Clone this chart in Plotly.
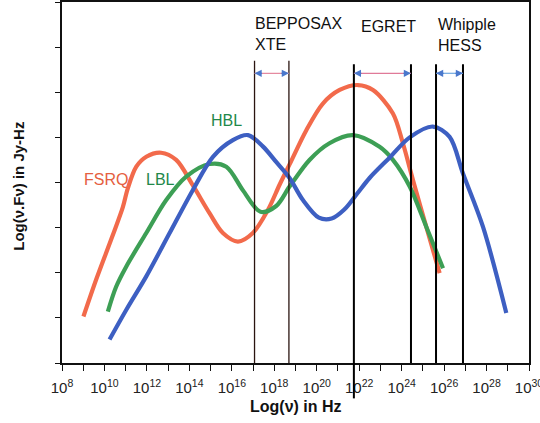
import plotly.graph_objects as go

# ---- data (log10 of frequency in Hz, log nuFnu in arbitrary units) ----
fsrq_x = [9.01, 9.61, 10.39, 10.87, 11.10, 11.50, 11.97, 12.67, 13.38, 14.16, 14.95, 15.58, 16.29,
          16.99, 17.70, 18.25, 18.72, 19.51, 20.29, 21.08, 21.94, 22.65, 23.59, 24.06, 24.53, 25.16, 25.79]
fsrq_y = [1.03, 1.85, 2.83, 3.46, 3.87, 4.35, 4.57, 4.66, 4.50, 3.94, 3.32, 2.88, 2.69,
          2.88, 3.39, 3.95, 4.40, 5.16, 5.75, 6.05, 6.16, 6.05, 5.53, 4.87, 4.06, 3.02, 1.99]

lbl_x = [10.16, 10.55, 11.03, 11.97, 12.91, 13.85, 14.95, 15.74, 16.52, 17.35, 18.09, 18.72,
         19.66, 20.60, 21.70, 22.96, 23.59, 24.38, 25.16, 25.95]
lbl_y = [1.14, 1.69, 2.14, 2.88, 3.61, 4.13, 4.41, 4.35, 3.83, 3.35, 3.48, 3.91,
         4.50, 4.87, 5.05, 4.79, 4.50, 3.91, 3.02, 2.10]

hbl_x = [10.24, 11.03, 11.97, 13.07, 14.16, 15.11, 16.05, 16.76, 17.46, 18.10, 18.72, 19.35,
         20.10, 20.70, 21.30, 21.90, 22.49, 23.43, 24.38, 25.47, 26.26, 26.89, 27.83, 28.93]
hbl_y = [0.52, 1.18, 1.92, 2.88, 3.83, 4.57, 4.94, 5.05, 4.80, 4.45, 4.10, 3.61,
         3.22, 3.20, 3.40, 3.75, 4.10, 4.55, 5.00, 5.24, 5.01, 4.20, 3.02, 1.11]

# instrument bands (log10 Hz)
instruments = ["BEPPOSAX<br>XTE", "EGRET", "Whipple<br>HESS"]
band_lo = [17.07, 21.75, 25.62]
band_hi = [18.69, 24.44, 26.89]
band_top = [6.70, 6.62, 6.62]
arrow_y = 6.42
label_x = [16.98, 21.98, 25.62]
label_y = [7.28, 7.46, 7.27]

x_tickvals = list(range(8, 31, 2))
x_ticktext = ["10<sup>%d</sup>" % v for v in x_tickvals]

RED = "#f26a4b"
GREEN = "#3d9f55"
BLUE = "#3d5fc2"

fig = go.Figure()
for xs, ys, c in [(fsrq_x, fsrq_y, RED), (lbl_x, lbl_y, GREEN), (hbl_x, hbl_y, BLUE)]:
    fig.add_trace(go.Scatter(x=xs, y=ys, mode="lines",
                             line=dict(color=c, width=4.2, shape="spline", smoothing=0.9),
                             hoverinfo="skip", showlegend=False))

shapes = []
anns = []
band_styles = [("#2a1410", 1.3), ("#000000", 2.0), ("#000000", 2.0)]
arrow_line_col = ["#e58aa0", "#e07a98", "#6fa8e0"]
for i in range(3):
    col, w = band_styles[i]
    for xv in (band_lo[i], band_hi[i]):
        shapes.append(dict(type="line", xref="x", yref="y", x0=xv, x1=xv, y0=0, y1=band_top[i],
                           line=dict(color=col, width=w), layer="above"))
    shapes.append(dict(type="line", xref="x", yref="y", x0=band_lo[i], x1=band_hi[i],
                       y0=arrow_y, y1=arrow_y, line=dict(color=arrow_line_col[i], width=1.2)))
    for xv, off in ((band_lo[i], 9), (band_hi[i], -9)):
        anns.append(dict(x=xv, y=arrow_y, xref="x", yref="y", ax=off, ay=0, text="",
                         showarrow=True, arrowhead=2, arrowsize=1.1, arrowwidth=1.3,
                         arrowcolor="#4a78cc", standoff=0))
    anns.append(dict(x=label_x[i], y=label_y[i], xref="x", yref="y", text=instruments[i],
                     showarrow=False, xanchor="left", yanchor="middle", align="left",
                     font=dict(family="Liberation Sans, Arial", size=16, color="#111111")))

# EGRET low edge extends below the x axis
shapes.append(dict(type="line", xref="x", yref="y domain", x0=band_lo[1], x1=band_lo[1],
                   y0=-0.098, y1=0, line=dict(color="#000000", width=2.0)))

# curve labels
for txt, xv, yv, c in [("FSRQ", 10.08, 4.06, "#e5603f"), ("LBL", 12.64, 4.06, "#22884a"),
                       ("HBL", 15.75, 5.38, "#22884a")]:
    anns.append(dict(x=xv, y=yv, xref="x", yref="y", text=txt, showarrow=False,
                     font=dict(family="Liberation Sans, Arial", size=16, color=c)))

# axis titles
anns.append(dict(x=0.5, y=-0.12, xref="paper", yref="paper", text="<b>Log(ν) in Hz</b>",
                 showarrow=False, xanchor="center", yanchor="middle",
                 font=dict(family="Liberation Sans, Arial", size=16, color="#111111")))
anns.append(dict(x=-0.095, y=0.49, xref="paper", yref="paper", text="<b>Log(ν.Fν) in Jy-Hz</b>",
                 showarrow=False, textangle=-90, xanchor="center", yanchor="middle",
                 font=dict(family="Liberation Sans, Arial", size=15, color="#111111")))

fig.update_layout(
    width=540, height=423,
    margin=dict(l=62, r=11, t=2, b=60),
    paper_bgcolor="white", plot_bgcolor="white",
    shapes=shapes, annotations=anns,
    xaxis=dict(range=[8, 30], tickvals=x_tickvals, ticktext=x_ticktext, automargin=False,
               ticks="outside", ticklen=6, tickwidth=1.3, tickcolor="#111111",
               ticklabelstandoff=4, ticklabeloverflow="allow",
               showgrid=False, zeroline=False, showline=True, linecolor="#111111",
               linewidth=1.6, mirror=True,
               minor=dict(dtick=1, tick0=8, ticks="outside", ticklen=6, tickwidth=1.3,
                          tickcolor="#111111", showgrid=False),
               tickfont=dict(family="Liberation Sans, Arial", size=15, color="#222222")),
    yaxis=dict(range=[0, 8], dtick=1, ticks="outside", ticklen=5, tickwidth=1.3, automargin=False,
               tickcolor="#111111", showticklabels=False, showgrid=False, zeroline=False,
               showline=True, linecolor="#111111", linewidth=1.6, mirror=True),
)

fig.write_html("out.html")
